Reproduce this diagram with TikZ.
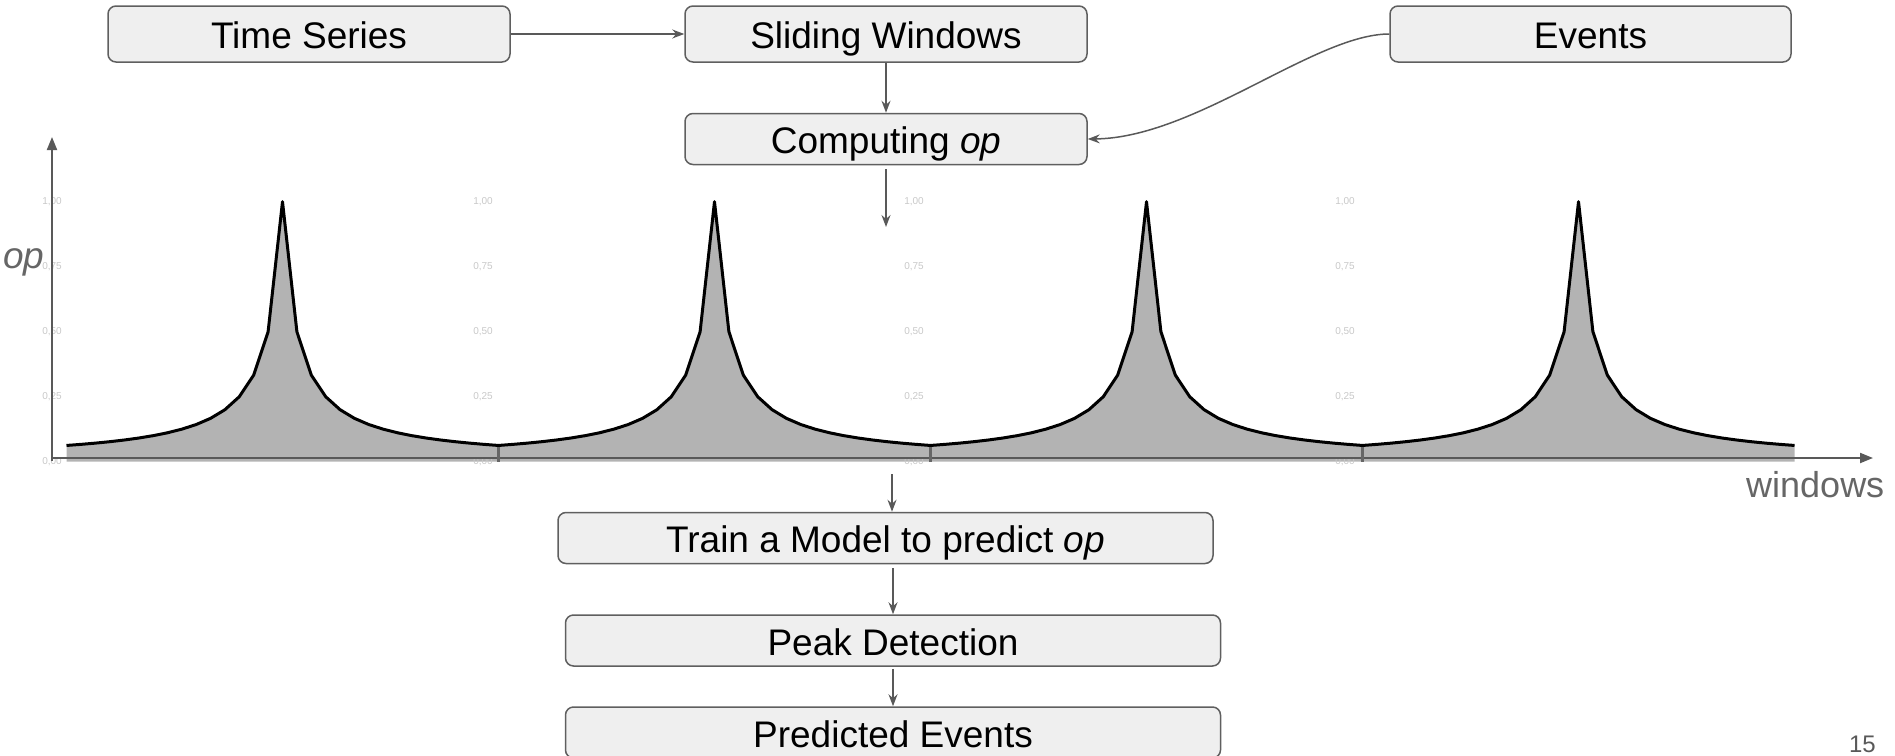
\documentclass[tikz,border=0pt]{standalone}
\usepackage{fontspec}
\setmainfont{Liberation Sans}
\usetikzlibrary{arrows.meta}
\definecolor{boxfill}{HTML}{EFEFEF}
\definecolor{boxline}{HTML}{5F5F5F}
\definecolor{arr}{HTML}{595959}
\definecolor{areafill}{HTML}{B3B3B3}
\definecolor{ticktext}{HTML}{C8C8C8}
\definecolor{axislabel}{HTML}{666666}
\begin{document}
\begin{tikzpicture}[x=1pt,y=-1pt,
  stepbox/.style={draw=boxline, fill=boxfill, line width=1.5pt, rounded corners=8pt,
    inner sep=0pt, font=\fontsize{37}{44}\selectfont, text=black,
    text height=30pt, text depth=0.5pt},
  flow/.style={draw=arr, line width=1.5pt, -{Stealth[length=12pt,width=9pt,inset=4pt]}},
  axisline/.style={draw=arr, line width=2pt, -{Triangle[length=13pt,width=10pt]}},
  ticklab/.style={text=ticktext, font=\fontsize{10}{12}\selectfont, inner sep=0pt},
  axlab/.style={text=axislabel, font=\fontsize{37}{44}\selectfont, inner sep=0pt}]
\useasboundingbox (0,0) rectangle (1895,755);

% ---- chart ----
\fill[areafill] (66.5,461.5) -- plot[samples at={0,...,120}]
  ({66.5+14.4*\x},{461.7-260/(1+abs(mod(\x,30)-15))}) -- (1794.5,461.5) -- cycle;
\foreach \tx in {52,483,914,1345}{
  \foreach \ty/\lab in {201.7/1{,}00,266.7/0{,}75,331.7/0{,}50,396.7/0{,}25,461.7/0{,}00}{
    \node[ticklab] at (\tx,\ty) {\lab};
  }
}
\draw[axisline] (52,461) -- (52,137);
\draw[axisline] (52,458) -- (1873,458);
\foreach \bx in {498.5,930.5,1362.5}
  \draw[draw=axislabel, line width=3pt] (\bx,446) -- (\bx,461.5);
\draw[black, line width=3pt, line join=round] plot[samples at={0,...,120}]
  ({66.5+14.4*\x},{461.7-260/(1+abs(mod(\x,30)-15))});
\node[axlab, font=\fontsize{37}{44}\selectfont\itshape, anchor=base west] (oplab) at (3,268) {op};
\node[axlab, font=\fontsize{36}{44}\selectfont, anchor=base west] (winlab) at (1746,497) {windows};
\node[text=arr, font=\fontsize{24}{28}\selectfont, inner sep=0pt, anchor=base east] (pagenum) at (1876,752.5) {15};

% ---- boxes ----
\node[stepbox, minimum width=402pt, minimum height=56pt] (ts) at (309,34) {Time Series};
\node[stepbox, minimum width=402pt, minimum height=56pt] (sw) at (886,34) {Sliding Windows};
\node[stepbox, minimum width=401pt, minimum height=56pt] (ev) at (1590.5,34) {Events};
\node[stepbox, minimum width=402pt, minimum height=51pt] (co) at (886,139) {Computing \textit{op}};
\node[stepbox, minimum width=655pt, minimum height=51pt] (tr) at (885.5,538) {Train a Model to predict \textit{op}};
\node[stepbox, minimum width=655pt, minimum height=51pt] (pk) at (893,640.5) {Peak Detection};
\node[stepbox, minimum width=655pt, minimum height=51pt] (pe) at (893,732.5) {Predicted Events};

% ---- connectors ----
\coordinate (codown) at (886,227);
\coordinate (trtop) at (892,474);
\draw[flow] (ts.east) -- (sw.west);
\draw[flow] (sw.south) -- (co.north);
\draw[flow] (ev.west) .. controls (1315,34) and (1195,138) .. (co.east);
\draw[flow] ([yshift=-4pt]co.south) -- (codown);
\draw[flow] (trtop) -- (trtop |- tr.north);
\draw[flow] ([yshift=-4pt]pk.north |- tr.south) -- (pk.north);
\draw[flow] ([yshift=-2pt]pk.south) -- (pe.north);
\end{tikzpicture}
\end{document}
